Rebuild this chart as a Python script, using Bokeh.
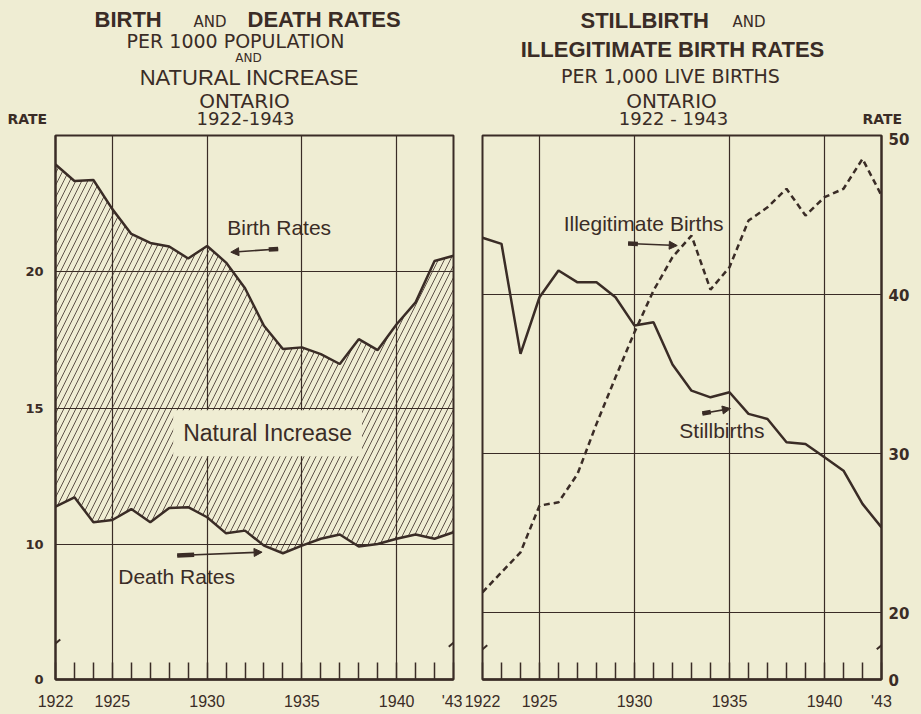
from bokeh.plotting import figure
from bokeh.layouts import row, column
from bokeh.models import FixedTicker, Label, Arrow, NormalHead, Range1d
from bokeh.embed import file_html
from bokeh.resources import INLINE
from bokeh.core.properties import value

# ---------------- data ----------------
years = list(range(1922, 1944))
birth_rates = [23.94, 23.33, 23.37, 22.30, 21.39, 21.06, 20.93, 20.49, 20.95, 20.34, 19.40,
               18.02, 17.17, 17.23, 16.98, 16.62, 17.53, 17.13, 18.08, 18.88, 20.40, 20.59]
death_rates = [11.39, 11.73, 10.82, 10.90, 11.30, 10.82, 11.34, 11.37, 11.00, 10.41, 10.51,
               9.96, 9.68, 9.96, 10.21, 10.37, 9.93, 10.02, 10.21, 10.37, 10.21, 10.45]
stillbirth_rates = [43.57, 43.19, 36.27, 39.83, 41.51, 40.77, 40.77, 39.83, 38.05, 38.26, 35.60,
                    33.96, 33.54, 33.86, 32.50, 32.18, 30.71, 30.61, 29.77, 28.93, 26.84, 25.36]
illegitimate_rates = [21.28, 22.54, 23.79, 26.73, 26.94, 28.72, 31.87, 34.80, 37.63, 40.25, 42.35,
                      43.71, 40.31, 41.72, 44.65, 45.49, 46.65, 44.97, 46.12, 46.65, 48.53, 46.23]

x_major_ticks = [1922, 1925, 1930, 1935, 1940, 1943]
x_grid_ticks = [1925, 1930, 1935, 1940]
x_tick_labels = {1943: "'43"}
left_y_ticks = [5.05, 10, 15, 20]
left_y_grid = [10, 15, 20]
left_y_labels = {5.05: "0"}
right_y_ticks = [15.8, 20, 30, 40, 50]
right_y_grid = [20, 30, 40]
right_y_labels = {15.8: "0"}

# ---------------- style ----------------
BG = "#efedd3"
INK = "#3a2c26"
F_SANS = "Liberation Sans, Arial, sans-serif"
F_WIDE = "DejaVu Sans, sans-serif"
TITLE_H = 132
PLOT_H = 714 - TITLE_H
W1, W2 = 462, 459


def base(width, y_range, y_loc, mbl, mbr, yticks, ygrid, ylabels, ysize, ystand):
    p = figure(width=width, height=PLOT_H, x_range=Range1d(1922, 1943), y_range=y_range,
               output_backend="svg", toolbar_location=None, y_axis_location=y_loc,
               title=None, min_border_left=mbl, min_border_right=mbr, min_border_top=3,
               min_border_bottom=35)
    p.background_fill_color = BG
    p.border_fill_color = BG
    p.outline_line_color = INK
    p.outline_line_width = 2
    xa = p.xaxis[0]
    xa.ticker = FixedTicker(ticks=x_major_ticks, minor_ticks=years)
    xa.major_label_overrides = x_tick_labels
    xa.major_tick_line_color = None
    xa.major_tick_in = 0
    xa.major_tick_out = 0
    xa.minor_tick_in = 17
    xa.minor_tick_out = 0
    xa.minor_tick_line_color = INK
    xa.minor_tick_line_width = 1.5
    xa.axis_line_color = INK
    xa.axis_line_width = 2.5
    xa.major_label_text_font = F_SANS
    xa.major_label_text_font_size = "16px"
    xa.major_label_text_color = INK
    xa.major_label_standoff = 13
    ya = p.yaxis[0]
    ya.ticker = FixedTicker(ticks=yticks)
    ya.major_label_overrides = ylabels
    ya.major_tick_line_color = None
    ya.major_tick_in = 0
    ya.major_tick_out = 0
    ya.minor_tick_line_color = None
    ya.axis_line_color = INK
    ya.axis_line_width = 2
    ya.major_label_text_font = F_WIDE
    ya.major_label_text_font_style = "bold"
    ya.major_label_text_font_size = ysize
    ya.major_label_text_color = INK
    ya.major_label_standoff = ystand
    p.xgrid.ticker = FixedTicker(ticks=x_grid_ticks)
    p.ygrid.ticker = FixedTicker(ticks=ygrid)
    p.xgrid.grid_line_color = INK
    p.ygrid.grid_line_color = INK
    p.xgrid.grid_line_width = 1.2
    p.ygrid.grid_line_width = 1.2
    return p


def title_fig(width, x0):
    t = figure(width=width, height=TITLE_H, x_range=Range1d(x0, x0 + width),
               y_range=Range1d(TITLE_H, 0), output_backend="svg", toolbar_location=None,
               title=None, x_axis_type=None, y_axis_type=None, min_border=0)
    t.background_fill_color = BG
    t.border_fill_color = BG
    t.outline_line_color = None
    return t


def ttl(t, x, y, s, px, font=F_WIDE, style="normal", align="left"):
    # y is the reference baseline; place the text by its middle
    t.text(x=[x], y=[y - 0.35 * px], text=[s], text_font=value(font),
           text_font_size="%dpx" % px, text_font_style=style, text_align=align,
           text_baseline="middle", text_color=INK)


def lab(p, x, y, text, size, font=F_SANS, align="left", **kw):
    p.add_layout(Label(x=x, y=y, text=text, text_font=font, text_font_size=size,
                       text_align=align, text_baseline="middle", text_color=INK, **kw))


def arrow(p, xs, ys, xe, ye, blob_frac=0.2):
    p.add_layout(Arrow(x_start=xs, y_start=ys, x_end=xe, y_end=ye, line_color=INK,
                       line_width=1.6,
                       end=NormalHead(size=8, fill_color=INK, line_color=INK)))
    bx = xs + (xe - xs) * blob_frac
    by = ys + (ye - ys) * blob_frac
    p.add_layout(Arrow(x_start=xs, y_start=ys, x_end=bx, y_end=by, line_color=INK,
                       line_width=4.5, end=None))


def brk(p, x, y, dx, dy):
    p.add_layout(Arrow(x_start=x - dx, y_start=y - dy, x_end=x + dx, y_end=y + dy,
                       line_color=INK, line_width=2, end=None))


# ---------------- left panel ----------------
p1 = base(W1, Range1d(5.05, 25), "left", 55, 9, left_y_ticks, left_y_grid, left_y_labels,
          "13px", 12)
p1.varea(x=years, y1=death_rates, y2=birth_rates, fill_alpha=0, hatch_pattern="/",
         hatch_color=INK, hatch_alpha=0.8, hatch_weight=1, hatch_scale=12)
p1.line(years, birth_rates, line_color=INK, line_width=2.5)
p1.line(years, death_rates, line_color=INK, line_width=2.5)

lab(p1, 1933.19, 14.08, "Natural Increase", "23px", align="center",
    background_fill_color=BG, padding=10)
lab(p1, 1931.06, 21.61, "Birth Rates", "21px")
lab(p1, 1928.39, 8.83, "Death Rates", "21px", align="center")
arrow(p1, 1933.75, 20.84, 1931.25, 20.72)
arrow(p1, 1928.42, 9.60, 1932.90, 9.72)
brk(p1, 1922, 6.37, 0.25, 0.15)
brk(p1, 1943, 6.40, 0.25, 0.15)

t1 = title_fig(W1, 0)
ttl(t1, 94, 27, "BIRTH", 22, font=F_SANS, style="bold")
ttl(t1, 193, 27, "AND", 15)
ttl(t1, 247, 27, "DEATH RATES", 22, font=F_SANS, style="bold")
ttl(t1, 235, 47, "PER 1000 POPULATION", 19, align="center")
ttl(t1, 248, 62, "AND", 12, align="center")
ttl(t1, 249, 85, "NATURAL INCREASE", 22, font=F_SANS, align="center")
ttl(t1, 244, 107, "ONTARIO", 20, align="center")
ttl(t1, 245, 124, "1922-1943", 18, align="center")
ttl(t1, 7, 123, "RATE", 14, style="bold")

# ---------------- right panel ----------------
p2 = base(W2, Range1d(15.8, 50), "right", 20, 40, right_y_ticks, right_y_grid,
          right_y_labels, "15px", 7)
p2.line(years, stillbirth_rates, line_color=INK, line_width=2.5)
p2.line(years, illegitimate_rates, line_color=INK, line_width=2.5, line_dash="6 4")

lab(p2, 1930.48, 44.47, "Illegitimate Births", "21px", align="center")
lab(p2, 1934.60, 31.45, "Stillbirths", "21px", align="center")
arrow(p2, 1929.66, 43.21, 1932.25, 43.08)
arrow(p2, 1933.57, 32.52, 1935.05, 32.83, blob_frac=0.3)
brk(p2, 1922, 17.7, 0.25, 0.25)
brk(p2, 1943, 17.95, 0.25, 0.25)

t2 = title_fig(W2, W1)
ttl(t2, 580, 28, "STILLBIRTH", 22, font=F_SANS, style="bold")
ttl(t2, 732, 27, "AND", 15)
ttl(t2, 672, 57, "ILLEGITIMATE BIRTH RATES", 22, font=F_SANS, style="bold",
    align="center")
ttl(t2, 670, 82, "PER 1,000 LIVE BIRTHS", 19, align="center")
ttl(t2, 671, 107, "ONTARIO", 20, align="center")
ttl(t2, 673, 124, "1922 - 1943", 18, align="center")
ttl(t2, 862, 123, "RATE", 14, style="bold")

layout = column(row(t1, t2, spacing=0), row(p1, p2, spacing=0), spacing=0)
layout.styles = {"background-color": BG}

html = file_html(layout, INLINE, title="Ontario rates 1922-1943")
html = html.replace("<body>", '<body style="background-color:%s;">' % BG, 1)
open("out.html", "w").write(html)
